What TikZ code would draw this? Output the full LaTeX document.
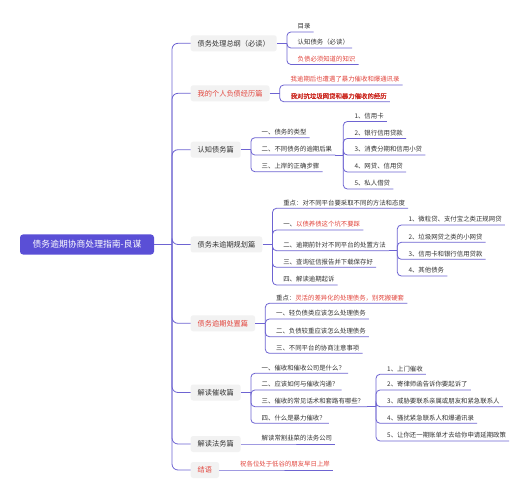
\documentclass[tikz,border=0pt]{standalone}
\usepackage{fontspec}
\setmainfont{Noto Sans CJK SC}[AutoFakeBold=1.5]
\definecolor{lc}{HTML}{6E64D2}
\definecolor{rootc}{HTML}{5A4FD6}
\definecolor{boxg}{HTML}{F2F2F2}
\definecolor{txt}{HTML}{333333}
\definecolor{rd}{HTML}{E2463E}
\definecolor{drd}{HTML}{CC2A22}
\tikzset{
  ln/.style={draw=lc, line width=0.8pt},
  br/.style={ln, rounded corners=4pt},
  trunk/.style={ln, rounded corners=6pt},
  rootbox/.style={fill=rootc, rounded corners=3pt, text=white, font=\fontsize{8.8}{10}\selectfont, minimum width=134pt, minimum height=20pt, inner sep=0pt},
  l1/.style={fill=boxg, rounded corners=2.5pt, font=\fontsize{7.2}{8.5}\selectfont, text=txt, inner xsep=7pt, inner ysep=0pt, minimum height=16pt, anchor=west},
  leaf/.style={anchor=south west, inner xsep=3pt, inner ysep=1.8pt, text height=5.2pt, text depth=1.2pt, font=\fontsize{6.4}{7.5}\selectfont, text=txt},
  leafb/.style={leaf, font=\fontsize{6.4}{7.5}\selectfont\bfseries}
}
\begin{document}
\begin{tikzpicture}[x=1pt,y=-1pt]
\useasboundingbox (0,0) rectangle (528,500);
\fill[white] (0,0) rectangle (528,500);

% root and trunk
\node[rootbox] (root) at (87,244.5) {债务逾期协商处理指南-良谋};
\coordinate (t) at (172,244.5);
\draw[ln] (root.east) -- (t);

% level 1
\node[l1] (n1) at (190.5,43.3) {债务处理总纲（必读）};
\node[l1,text=rd] (n2) at (190.5,93.3) {我的个人负债经历篇};
\node[l1] (n3) at (190.5,149.7) {认知债务篇};
\node[l1] (n4) at (190.5,244.5) {债务未逾期规划篇};
\node[l1,text=rd] (n5) at (190.5,323.3) {债务逾期处置篇};
\node[l1] (n6) at (190.5,392.5) {解读催收篇};
\node[l1] (n7) at (190.5,444) {解读法务篇};
\node[l1,text=rd] (n8) at (190.5,470) {结语};
\foreach \n in {n1,n2,n3,n4,n5,n6,n7,n8} \draw[trunk] (t) |- (\n.west);

% n1
\draw[ln] (n1.east) -- ++(10,0) coordinate (b1);
\node[leaf] (a1) at (294.5,32) {目录};
\node[leaf] (a2) at (294.5,48) {认知债务（必读）};
\node[leaf,text=rd] (a3) at (294.5,64.5) {负债必须知道的知识};
\foreach \c in {a1,a2,a3} \draw[br] (b1) |- (\c.south west) -- (\c.south east);

% n2
\draw[ln] (n2.east) -- ++(10,0) coordinate (b2);
\node[leaf,text=rd] (m1) at (287.5,85) {我逾期后也遭遇了暴力催收和爆通讯录};
\node[leafb,text=drd] (m2) at (287.5,101.7) {我对抗垃圾网贷和暴力催收的经历};
\foreach \c in {m1,m2} \draw[br] (b2) |- (\c.south west) -- (\c.south east);

% n3
\draw[ln] (n3.east) -- ++(10,0) coordinate (b3);
\node[leaf] (c1) at (258.5,137.7) {一、债务的类型};
\node[leaf] (c2) at (258.5,155) {二、不同债务的逾期后果};
\node[leaf] (c3) at (258.5,171.7) {三、上岸的正确步骤};
\foreach \c in {c1,c2,c3} \draw[br] (b3) |- (\c.south west) -- (\c.south east);
\coordinate (b3s) at (343.3,155);
\draw[ln] (c2.south east) -- (b3s);
\node[leaf] (d1) at (351.3,121.5) {1、信用卡};
\node[leaf] (d2) at (351.3,138.5) {2、银行信用贷款};
\node[leaf] (d3) at (351.3,155) {3、消费分期和信用小贷};
\node[leaf] (d4) at (351.3,172) {4、网贷、信用贷};
\node[leaf] (d5) at (351.3,189) {5、私人借贷};
\foreach \c in {d1,d2,d3,d4,d5} \draw[br] (b3s) |- (\c.south west) -- (\c.south east);

% n4
\draw[ln] (n4.east) -- ++(10,0) coordinate (b4);
\node[leaf] (e1) at (280.1,208.3) {重点：对不同平台要采取不同的方法和态度};
\node[leaf] (e2) at (280.1,230) {一、\textcolor{rd}{以债养债这个坑不要踩}};
\node[leaf] (e3) at (280.1,250.7) {二、逾期前针对不同平台的处置方法};
\node[leaf] (e4) at (280.1,267.3) {三、查询征信报告并下载保存好};
\node[leaf] (e5) at (280.1,285) {四、解读逾期起诉};
\foreach \c in {e1,e2,e3,e4,e5} \draw[br] (b4) |- (\c.south west) -- (\c.south east);
\coordinate (b4s) at (397.3,250.7);
\draw[ln] (e3.south east) -- (b4s);
\node[leaf] (f1) at (405.3,225) {1、微粒贷、支付宝之类正规网贷};
\node[leaf] (f2) at (405.3,242.3) {2、垃圾网贷之类的小网贷};
\node[leaf] (f3) at (405.3,259.3) {3、信用卡和银行信用贷款};
\node[leaf] (f4) at (405.3,276) {4、其他债务};
\foreach \c in {f1,f2,f3,f4} \draw[br] (b4s) |- (\c.south west) -- (\c.south east);

% n5
\draw[ln] (n5.east) -- ++(10,0) coordinate (b5);
\node[leaf] (g1) at (272.9,303.3) {重点：\textcolor{rd}{灵活的差异化的处理债务，别死搬硬套}};
\node[leaf] (g2) at (272.9,319) {一、轻负债类应该怎么处理债务};
\node[leaf] (g3) at (272.9,336.7) {二、负债较重应该怎么处理债务};
\node[leaf] (g4) at (272.9,353.3) {三、不同平台的协商注意事项};
\foreach \c in {g1,g2,g3,g4} \draw[br] (b5) |- (\c.south west) -- (\c.south east);

% n6
\draw[ln] (n6.east) -- ++(10,0) coordinate (b6);
\node[leaf] (h1) at (258.5,373.3) {一、催收和催收公司是什么？};
\node[leaf] (h2) at (258.5,390) {二、应该如何与催收沟通？};
\node[leaf] (h3) at (258.5,406.7) {三、催收的常见话术和套路有哪些？};
\node[leaf] (h4) at (258.5,423.3) {四、什么是暴力催收？};
\foreach \c in {h1,h2,h3,h4} \draw[br] (b6) |- (\c.south west) -- (\c.south east);
\coordinate (b6s) at (376,406.7);
\draw[ln] (h3.south east) -- (b6s);
\node[leaf] (i1) at (384,374.3) {1、上门催收};
\node[leaf] (i2) at (384,390) {2、寄律师函告诉你要起诉了};
\node[leaf] (i3) at (384,406.7) {3、威胁要联系亲属或朋友和紧急联系人};
\node[leaf] (i4) at (384,423.3) {4、骚扰紧急联系人和爆通讯录};
\node[leaf] (i5) at (384,441) {5、让你还一期账单才去给你申请延期政策};
\foreach \c in {i1,i2,i3,i4,i5} \draw[br] (b6s) |- (\c.south west) -- (\c.south east);

% n7
\node[leaf] (j1) at (258.5,444) {解读常割韭菜的法务公司};
\draw[ln] (n7.east) -- (j1.south west) -- (j1.south east);

% n8
\node[leaf,text=rd] (k1) at (237,470) {祝各位处于低谷的朋友早日上岸};
\draw[ln] (n8.east) -- (k1.south west) -- (k1.south east);
\end{tikzpicture}
\end{document}
